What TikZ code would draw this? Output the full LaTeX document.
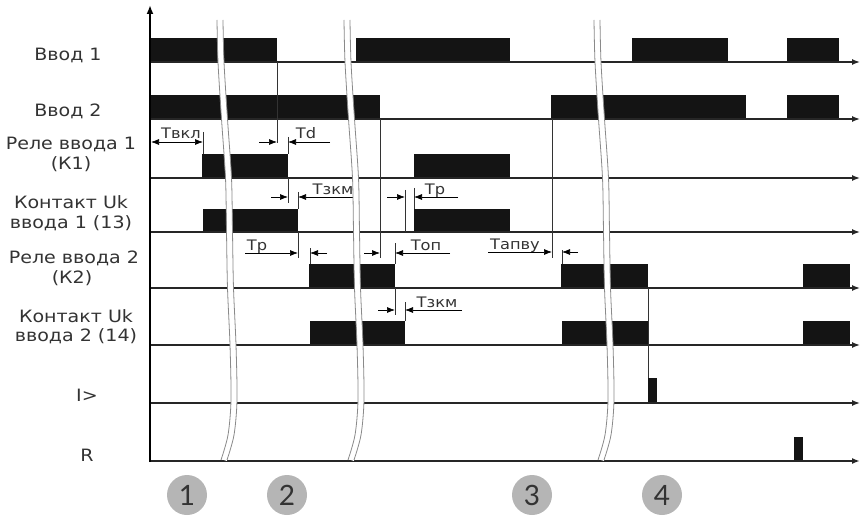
\documentclass[tikz,border=0pt]{standalone}
\usepackage{fontspec}
\setmainfont{DejaVu Sans}[FakeStretch=1.12]
\newfontfamily\digitfont{Lato}
\usetikzlibrary{arrows.meta}
\definecolor{txt}{HTML}{333333}
\definecolor{brkgray}{HTML}{8A8A8A}
\definecolor{circgray}{HTML}{B5B5B5}
\begin{document}
\begin{tikzpicture}[x=1pt,y=-1pt,
  sig/.style={line width=1.4pt, draw=black!85, -{Latex[length=8pt,width=6pt]}},
  pulse/.style={fill=black!92},
  guide/.style={line width=0.7pt, draw=black!80},
  dimarr/.style={line width=0.7pt, -{Latex[length=8pt,width=6pt]}},
  rowlbl/.style={font=\fontsize{17}{20}\selectfont, text=txt, anchor=base, inner sep=0pt},
  dimlbl/.style={font=\fontsize{14.5}{16}\selectfont, text=txt, anchor=base, inner sep=0pt},
  numc/.style={circle, fill=circgray, minimum size=40pt, inner sep=0pt, font=\digitfont\fontsize{28}{28}\selectfont, text=txt}]
\useasboundingbox (0,0) rectangle (860,516);

% pulses: Ввод 1
\fill[pulse] (150,38) rectangle (277,62);
\fill[pulse] (356,38) rectangle (510,62);
\fill[pulse] (632,38) rectangle (728,62);
\fill[pulse] (787,38) rectangle (839,62);
% Ввод 2
\fill[pulse] (150,95) rectangle (380,119);
\fill[pulse] (551,95) rectangle (746,119);
\fill[pulse] (787,95) rectangle (839,119);
% Реле 1
\fill[pulse] (202,154) rectangle (288,178);
\fill[pulse] (414,154) rectangle (510,178);
% Контакт 1
\fill[pulse] (203,209) rectangle (298,232);
\fill[pulse] (414,209) rectangle (510,232);
% Реле 2
\fill[pulse] (309,264) rectangle (395,288);
\fill[pulse] (561,264) rectangle (648,288);
\fill[pulse] (803,264) rectangle (850,288);
% Контакт 2
\fill[pulse] (310,321) rectangle (405,345);
\fill[pulse] (562,321) rectangle (648,345);
\fill[pulse] (803,321) rectangle (850,345);
% I>
\fill[pulse] (648,378) rectangle (657,403);
% R
\fill[pulse] (794,437) rectangle (803,461);

% baselines
\foreach \yy in {62,119,178,232,288,345,403}
  \draw[sig] (150,\yy) -- (860,\yy);
\draw[sig, line width=2pt] (149,461) -- (860,461);
\draw[line width=2pt, -{Latex[length=9pt,width=7pt]}] (150,462) -- (150,5);

% guide lines
\draw[guide] (277,62) -- (277,143);
\draw[guide] (203,132) -- (203,154);
\draw[guide] (288,137) -- (288,154);
\draw[guide] (288,178) -- (288,203);
\draw[guide] (298,192) -- (298,209);
\draw[guide] (298,232) -- (298,258);
\draw[guide] (310,248) -- (310,264);
\draw[guide] (380,119) -- (380,258);
\draw[guide] (395,243) -- (395,264);
\draw[guide] (395,288) -- (395,315);
\draw[guide] (405,302) -- (405,321);
\draw[guide] (405,190) -- (405,232);
\draw[guide] (414,188) -- (414,209);
\draw[guide] (552,119) -- (552,258);
\draw[guide] (562,250) -- (562,264);
\draw[guide] (648,288) -- (648,378);

% dimension arrows
\draw[line width=0.7pt, {Latex[length=8pt,width=6pt]}-{Latex[length=8pt,width=6pt]}] (151,142) -- (203,142);
\draw[dimarr] (259,142) -- (277,142);
\draw[dimarr] (330,142) -- (288,142);
\draw[dimarr] (271,197) -- (288,197);
\draw[dimarr] (353,197) -- (298,197);
\draw[dimarr] (387,197) -- (405,197);
\draw[dimarr] (458,197) -- (414,197);
\draw[dimarr] (245,253) -- (298,253);
\draw[dimarr] (327,253) -- (310,253);
\draw[dimarr] (364,253) -- (380,253);
\draw[dimarr] (450,253) -- (395,253);
\draw[dimarr] (488,252) -- (552,252);
\draw[dimarr] (578,252) -- (562,252);
\draw[dimarr] (378,310) -- (395,310);
\draw[dimarr] (462,310) -- (405,310);

% dimension labels
\node[dimlbl] (tvkl) at (181,139) {Твкл};
\node[dimlbl] (td) at (306,139) {Td};
\node[dimlbl] (tzkm1) at (333,194) {Тзкм};
\node[dimlbl] (tr1) at (435,194) {Тр};
\node[dimlbl] (tr2) at (257,250) {Тр};
\node[dimlbl] (top) at (426,250) {Топ};
\node[dimlbl] (tapvu) at (515,249) {Тапву};
\node[dimlbl] (tzkm2) at (437,307) {Тзкм};

% breaks
\foreach \bx in {220,347,597} {
  \draw[white, line width=6pt] plot[smooth] coordinates {(\bx,20) (\bx+1,62) (\bx+4.5,119) (\bx+8.5,178) (\bx+9.5,232) (\bx+10.5,288) (\bx+13,345) (\bx+14,400) (\bx+11,435) (\bx+4,460)};
  \draw[brkgray, line width=0.8pt, xshift=-3pt] plot[smooth] coordinates {(\bx,20) (\bx+1,62) (\bx+4.5,119) (\bx+8.5,178) (\bx+9.5,232) (\bx+10.5,288) (\bx+13,345) (\bx+14,400) (\bx+11,435) (\bx+4,460)};
  \draw[brkgray, line width=0.8pt, xshift=3pt] plot[smooth] coordinates {(\bx,20) (\bx+1,62) (\bx+4.5,119) (\bx+8.5,178) (\bx+9.5,232) (\bx+10.5,288) (\bx+13,345) (\bx+14,400) (\bx+11,435) (\bx+4,460)};
}

% row labels
\node[rowlbl] (in1) at (68,61) {Ввод 1};
\node[rowlbl] (in2) at (68,117) {Ввод 2};
\node[rowlbl] (k1a) at (71,150) {Реле ввода 1};
\node[rowlbl] (k1b) at (71,170) {(К1)};
\node[rowlbl] (c13a) at (71,208) {Контакт Uk};
\node[rowlbl] (c13b) at (71,228) {ввода 1 (13)};
\node[rowlbl] (k2a) at (74,263) {Реле ввода 2};
\node[rowlbl] (k2b) at (72,283) {(К2)};
\node[rowlbl] (c14a) at (76,322) {Контакт Uk};
\node[rowlbl] (c14b) at (76,341) {ввода 2 (14)};
\node[rowlbl] (ig) at (87,401) {I>};
\node[rowlbl] (rr) at (87,461) {R};

% numbered circles
\node[numc] (n1) at (187,495) {1};
\node[numc] (n2) at (287,495) {2};
\node[numc] (n3) at (532,495) {3};
\node[numc] (n4) at (662,495) {4};
\end{tikzpicture}
\end{document}
